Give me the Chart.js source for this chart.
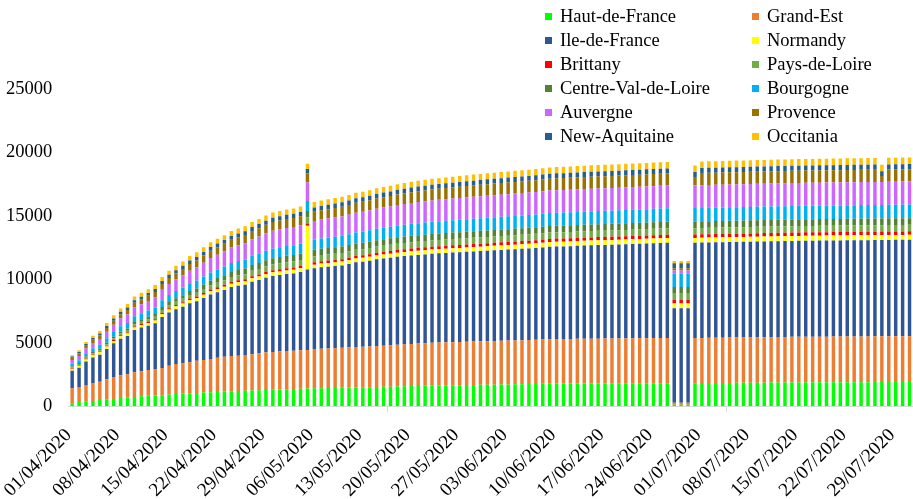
<!DOCTYPE html>
<html>
<head>
<meta charset="utf-8">
<script src="https://cdn.jsdelivr.net/npm/chart.js@4.4.1/dist/chart.umd.min.js"></script>
<style>
  html, body { margin: 0; padding: 0; background: #fff; }
  #wrap { position: relative; width: 913px; height: 499px; }
  #legend {
    position: absolute; left: 545px; top: 4px;
    display: grid; grid-template-columns: 207px 160px;
    font-family: "Liberation Serif", "Times New Roman", serif;
    font-size: 18.5px; color: #000;
  }
  .item { height: 24.1px; display: flex; align-items: center; white-space: nowrap; }
  .box { width: 7px; height: 7px; margin-right: 8px; flex: none; }
</style>
</head>
<body>
<div id="wrap">
  <canvas id="chart" width="913" height="499"></canvas>
  <div id="legend"></div>
</div>
<script>
// dates 01/04/2020 .. 31/07/2020
const dates = [
  '01/04/2020','02/04/2020','03/04/2020','04/04/2020','05/04/2020','06/04/2020','07/04/2020','08/04/2020','09/04/2020','10/04/2020',
  '11/04/2020','12/04/2020','13/04/2020','14/04/2020','15/04/2020','16/04/2020','17/04/2020','18/04/2020','19/04/2020','20/04/2020',
  '21/04/2020','22/04/2020','23/04/2020','24/04/2020','25/04/2020','26/04/2020','27/04/2020','28/04/2020','29/04/2020','30/04/2020',
  '01/05/2020','02/05/2020','03/05/2020','04/05/2020','05/05/2020','06/05/2020','07/05/2020','08/05/2020','09/05/2020','10/05/2020',
  '11/05/2020','12/05/2020','13/05/2020','14/05/2020','15/05/2020','16/05/2020','17/05/2020','18/05/2020','19/05/2020','20/05/2020',
  '21/05/2020','22/05/2020','23/05/2020','24/05/2020','25/05/2020','26/05/2020','27/05/2020','28/05/2020','29/05/2020','30/05/2020',
  '31/05/2020','01/06/2020','02/06/2020','03/06/2020','04/06/2020','05/06/2020','06/06/2020','07/06/2020','08/06/2020','09/06/2020',
  '10/06/2020','11/06/2020','12/06/2020','13/06/2020','14/06/2020','15/06/2020','16/06/2020','17/06/2020','18/06/2020','19/06/2020',
  '20/06/2020','21/06/2020','22/06/2020','23/06/2020','24/06/2020','25/06/2020','26/06/2020','27/06/2020','28/06/2020','29/06/2020',
  '30/06/2020','01/07/2020','02/07/2020','03/07/2020','04/07/2020','05/07/2020','06/07/2020','07/07/2020','08/07/2020','09/07/2020',
  '10/07/2020','11/07/2020','12/07/2020','13/07/2020','14/07/2020','15/07/2020','16/07/2020','17/07/2020','18/07/2020','19/07/2020',
  '20/07/2020','21/07/2020','22/07/2020','23/07/2020','24/07/2020','25/07/2020','26/07/2020','27/07/2020','28/07/2020','29/07/2020',
  '30/07/2020','31/07/2020'
];

const hautDeFrance = [
  240, 340, 390, 420, 500, 530, 580, 650, 700, 740,
  790, 830, 850, 870, 920, 970, 1000, 1020, 1050, 1080,
  1100, 1130, 1160, 1180, 1200, 1220, 1240, 1260, 1280, 1300,
  1320, 1340, 1360, 1380, 1400, 1420, 1430, 1440, 1450, 1460,
  1480, 1490, 1500, 1510, 1530, 1540, 1550, 1560, 1570, 1590,
  1600, 1610, 1620, 1630, 1640, 1650, 1660, 1670, 1680, 1690,
  1690, 1700, 1710, 1720, 1730, 1740, 1750, 1760, 1770, 1780,
  1790, 1790, 1790, 1795, 1800, 1800, 1800, 1805, 1805, 1810,
  1810, 1810, 1815, 1815, 1820, 1820, 1820, 120, 120, 120,
  1820, 1830, 1830, 1835, 1840, 1845, 1850, 1850, 1855, 1860,
  1865, 1870, 1870, 1875, 1880, 1885, 1885, 1890, 1890, 1890,
  1895, 1895, 1895, 1900, 1900, 1900, 1905, 1905, 1905, 1910,
  1910, 1910
];
const grandEst = [
  1180, 1180, 1290, 1420, 1440, 1600, 1730, 1790, 1820, 1940,
  1970, 2030, 2040, 2150, 2280, 2360, 2390, 2460, 2540, 2570,
  2630, 2700, 2750, 2780, 2790, 2820, 2860, 2910, 2970, 2980,
  3010, 3020, 3020, 3030, 3030, 3090, 3100, 3120, 3130, 3150,
  3170, 3180, 3200, 3210, 3230, 3240, 3260, 3280, 3300, 3320,
  3340, 3360, 3390, 3390, 3400, 3400, 3410, 3420, 3420, 3430,
  3440, 3440, 3450, 3460, 3460, 3470, 3480, 3480, 3490, 3500,
  3510, 3510, 3515, 3520, 3520, 3525, 3530, 3530, 3535, 3540,
  3540, 3545, 3550, 3550, 3555, 3560, 3560, 150, 150, 150,
  3560, 3560, 3565, 3565, 3570, 3570, 3570, 3575, 3575, 3580,
  3580, 3580, 3585, 3585, 3590, 3590, 3590, 3590, 3595, 3595,
  3595, 3600, 3600, 3600, 3600, 3605, 3605, 3605, 3605, 3610,
  3610, 3610
];
const ileDeFrance = [
  1390, 1520, 1840, 2000, 2130, 2390, 2650, 2890, 3020, 3330,
  3440, 3490, 3650, 4020, 4200, 4310, 4460, 4640, 4680, 4880,
  5070, 5150, 5250, 5430, 5510, 5540, 5720, 5780, 5880, 5990,
  6010, 6060, 6090, 6170, 6350, 6360, 6420, 6440, 6470, 6490,
  6560, 6670, 6690, 6750, 6820, 6870, 6900, 6950, 6970, 6980,
  6990, 7000, 7010, 7030, 7040, 7060, 7070, 7080, 7100, 7110,
  7130, 7150, 7160, 7170, 7190, 7200, 7210, 7240, 7260, 7290,
  7295, 7300, 7315, 7325, 7340, 7355, 7370, 7375, 7380, 7390,
  7410, 7425, 7435, 7455, 7465, 7480, 7500, 7450, 7450, 7450,
  7510, 7510, 7515, 7520, 7520, 7525, 7530, 7535, 7540, 7540,
  7545, 7550, 7555, 7560, 7560, 7565, 7570, 7570, 7570, 7575,
  7575, 7575, 7580, 7580, 7585, 7585, 7585, 7590, 7595, 7595,
  7595, 7600
];
const normandy = [
  150, 160, 170, 175, 180, 185, 190, 195, 200, 205,
  210, 215, 220, 225, 230, 235, 240, 245, 250, 255,
  260, 262, 265, 268, 270, 273, 276, 279, 282, 285,
  287, 288, 289, 290, 3440, 292, 294, 296, 298, 300,
  302, 304, 306, 308, 310, 312, 314, 318, 322, 326,
  330, 332, 334, 336, 338, 340, 342, 344, 346, 348,
  350, 352, 354, 356, 358, 360, 362, 364, 366, 368,
  370, 370, 372, 372, 374, 374, 375, 375, 376, 376,
  377, 377, 378, 378, 379, 379, 380, 380, 380, 380,
  380, 381, 381, 382, 382, 383, 383, 384, 384, 385,
  385, 385, 386, 386, 386, 387, 387, 387, 388, 388,
  388, 389, 389, 389, 390, 390, 390, 390, 391, 391,
  391, 392
];
const brittany = [
  50, 53, 56, 59, 62, 65, 68, 71, 74, 77,
  80, 86, 92, 98, 104, 110, 116, 122, 128, 134,
  140, 143, 146, 149, 152, 155, 158, 161, 164, 167,
  170, 173, 176, 179, 180, 182, 185, 188, 190, 193,
  196, 198, 200, 203, 206, 208, 210, 213, 216, 218,
  220, 222, 224, 226, 228, 230, 232, 234, 236, 238,
  240, 241, 242, 243, 244, 245, 246, 247, 248, 249,
  250, 251, 252, 253, 254, 255, 256, 257, 258, 259,
  260, 261, 262, 263, 264, 265, 266, 266, 266, 266,
  266, 267, 267, 268, 268, 268, 269, 269, 270, 270,
  270, 270, 271, 271, 271, 272, 272, 272, 273, 273,
  273, 273, 274, 274, 274, 274, 275, 275, 275, 275,
  276, 276
];
const paysDeLoire = [
  60, 70, 80, 90, 100, 110, 120, 135, 145, 158,
  170, 185, 200, 215, 230, 245, 260, 280, 300, 315,
  330, 345, 360, 375, 390, 405, 420, 435, 450, 462,
  470, 475, 478, 480, 481, 482, 483, 484, 485, 486,
  486, 487, 487, 488, 488, 489, 489, 489, 490, 490,
  490, 491, 491, 491, 492, 492, 492, 493, 493, 493,
  494, 494, 494, 495, 495, 495, 496, 496, 496, 497,
  497, 497, 498, 498, 498, 499, 499, 499, 500, 500,
  500, 500, 500, 501, 501, 501, 502, 502, 502, 502,
  502, 502, 503, 503, 503, 503, 503, 504, 504, 504,
  504, 504, 504, 504, 505, 505, 505, 505, 505, 505,
  505, 505, 506, 506, 506, 506, 506, 506, 506, 507,
  507, 507
];
const centreValDeLoire = [
  70, 80, 95, 110, 120, 135, 150, 165, 175, 188,
  200, 215, 230, 245, 260, 275, 290, 310, 325, 342,
  360, 375, 390, 405, 420, 435, 450, 465, 478, 488,
  494, 497, 499, 500, 501, 502, 503, 504, 505, 506,
  506, 507, 507, 508, 508, 509, 509, 509, 510, 510,
  510, 511, 511, 512, 512, 512, 513, 513, 513, 514,
  514, 514, 515, 515, 515, 516, 516, 516, 517, 517,
  517, 518, 518, 518, 519, 519, 519, 520, 520, 520,
  520, 521, 521, 521, 522, 522, 522, 522, 522, 522,
  523, 523, 523, 523, 524, 524, 524, 524, 525, 525,
  525, 525, 526, 526, 526, 526, 527, 527, 527, 527,
  528, 528, 528, 528, 529, 529, 529, 529, 530, 530,
  530, 530
];
const bourgogne = [
  210, 235, 260, 290, 315, 345, 375, 405, 430, 450,
  470, 490, 510, 530, 550, 570, 590, 610, 625, 645,
  660, 672, 684, 696, 708, 720, 732, 744, 756, 768,
  775, 780, 785, 790, 795, 805, 815, 825, 835, 845,
  855, 865, 875, 885, 895, 905, 915, 925, 935, 942,
  950, 955, 960, 965, 970, 975, 980, 984, 988, 992,
  996, 1000, 1003, 1006, 1009, 1012, 1015, 1018, 1021, 1024,
  1027, 1029, 1031, 1033, 1035, 1037, 1039, 1041, 1043, 1045,
  1046, 1047, 1048, 1049, 1050, 1051, 1052, 1053, 1053, 1053,
  1054, 1055, 1056, 1056, 1057, 1057, 1058, 1058, 1059, 1059,
  1060, 1060, 1061, 1061, 1062, 1062, 1063, 1063, 1064, 1064,
  1065, 1065, 1066, 1066, 1067, 1067, 1068, 1068, 1069, 1069,
  1070, 1070
];
const auvergne = [
  290, 330, 370, 420, 460, 510, 560, 610, 660, 690,
  710, 750, 790, 830, 870, 910, 955, 1000, 1045, 1090,
  1130, 1160, 1190, 1220, 1250, 1280, 1310, 1340, 1370, 1400,
  1415, 1425, 1435, 1445, 1455, 1465, 1480, 1495, 1510, 1525,
  1540, 1550, 1560, 1570, 1580, 1590, 1600, 1615, 1630, 1645,
  1660, 1670, 1680, 1688, 1696, 1704, 1712, 1720, 1726, 1732,
  1738, 1743, 1748, 1752, 1756, 1760, 1763, 1766, 1768, 1770,
  1772, 1774, 1776, 1778, 1779, 1780, 1782, 1783, 1784, 1786,
  1787, 1788, 1789, 1790, 1791, 1792, 1793, 260, 260, 260,
  1795, 1796, 1797, 1798, 1799, 1800, 1801, 1802, 1803, 1804,
  1805, 1805, 1806, 1806, 1807, 1807, 1808, 1808, 1809, 1809,
  1810, 1810, 1811, 1811, 1812, 1812, 1813, 1813, 1814, 1814,
  1815, 1815
];
const provence = [
  180, 200, 225, 250, 270, 295, 320, 345, 365, 380,
  390, 410, 430, 450, 470, 490, 510, 530, 550, 565,
  580, 592, 604, 616, 628, 640, 652, 664, 676, 688,
  695, 700, 705, 710, 715, 722, 732, 742, 752, 762,
  770, 780, 790, 798, 806, 814, 822, 830, 838, 846,
  852, 858, 864, 870, 876, 882, 888, 894, 899, 904,
  908, 912, 916, 920, 924, 927, 930, 933, 936, 938,
  940, 941, 942, 943, 944, 945, 946, 947, 948, 949,
  950, 951, 952, 953, 954, 955, 955, 180, 180, 180,
  650, 957, 957, 958, 958, 959, 959, 960, 960, 961,
  961, 962, 962, 963, 963, 964, 964, 965, 965, 966,
  966, 967, 967, 968, 968, 969, 969, 460, 970, 970,
  971, 971
];
const newAquitaine = [
  105, 120, 135, 150, 160, 170, 180, 190, 198, 205,
  210, 218, 226, 234, 242, 250, 258, 266, 274, 282,
  290, 294, 298, 302, 306, 310, 314, 318, 322, 326,
  330, 333, 336, 340, 342, 344, 346, 348, 350, 352,
  354, 356, 358, 360, 361, 362, 363, 364, 366, 368,
  370, 371, 372, 373, 374, 375, 376, 377, 378, 379,
  380, 381, 382, 383, 384, 385, 386, 387, 388, 389,
  390, 390, 391, 391, 392, 392, 392, 393, 393, 393,
  394, 394, 394, 394, 395, 395, 395, 395, 395, 395,
  395, 396, 396, 396, 396, 397, 397, 397, 397, 398,
  398, 398, 398, 398, 399, 399, 399, 399, 399, 400,
  400, 400, 400, 400, 401, 401, 401, 380, 401, 402,
  402, 402
];
const occitania = [
  105, 130, 155, 180, 200, 225, 245, 265, 280, 290,
  300, 308, 316, 324, 332, 340, 348, 356, 364, 372,
  380, 383, 386, 389, 392, 395, 398, 401, 404, 407,
  410, 413, 416, 420, 422, 424, 426, 428, 430, 432,
  434, 436, 438, 440, 442, 444, 446, 450, 454, 457,
  460, 462, 464, 466, 468, 470, 472, 474, 476, 478,
  480, 482, 484, 486, 488, 490, 492, 494, 496, 498,
  500, 501, 502, 503, 504, 505, 505, 506, 506, 507,
  507, 508, 508, 509, 509, 510, 510, 180, 180, 180,
  510, 511, 511, 512, 512, 512, 513, 513, 513, 514,
  514, 514, 515, 515, 515, 516, 516, 516, 517, 517,
  517, 518, 518, 518, 519, 519, 519, 519, 520, 520,
  520, 521
];

const regionNames = ['Haut-de-France', 'Grand-Est', 'Ile-de-France', 'Normandy', 'Brittany', 'Pays-de-Loire',
  'Centre-Val-de-Loire', 'Bourgogne', 'Auvergne', 'Provence', 'New-Aquitaine', 'Occitania'];
const regionValues = [hautDeFrance, grandEst, ileDeFrance, normandy, brittany, paysDeLoire,
  centreValDeLoire, bourgogne, auvergne, provence, newAquitaine, occitania];
const regionColors = ['#00FF00', '#ED7D31', '#2F5597', '#FFFF00', '#FF0000', '#70AD47',
  '#548235', '#00B0F0', '#CC66FF', '#997300', '#255E91', '#FFC000'];
const yTicks = [0, 5000, 10000, 15000, 20000, 25000];

const fontFamily = '"Liberation Serif", "Times New Roman", serif';

// legend (two columns, drawn over the plot like the original)
const legendDiv = document.getElementById('legend');
regionNames.forEach((name, i) => {
  const item = document.createElement('div');
  item.className = 'item';
  item.innerHTML = '<span class="box" style="background:' + regionColors[i] + '"></span><span>' + name + '</span>';
  legendDiv.appendChild(item);
});

const ctx = document.getElementById('chart').getContext('2d');
new Chart(ctx, {
  type: 'bar',
  data: {
    labels: dates,
    datasets: regionNames.map((name, i) => ({
      label: name,
      data: regionValues[i],
      backgroundColor: regionColors[i],
      borderWidth: 0,
      barPercentage: 0.5,
      categoryPercentage: 1.0
    }))
  },
  options: {
    responsive: false,
    animation: false,
    layout: { padding: { top: 89, right: 0, left: 0, bottom: 0 } },
    plugins: {
      legend: { display: false },
      tooltip: { enabled: false }
    },
    scales: {
      x: {
        stacked: true,
        offset: true,
        grid: {
          offset: true,
          drawOnChartArea: false,
          drawTicks: true,
          tickLength: 6,
          color: c => (c.index % 7 === 0 && c.index < dates.length) ? '#d9d9d9' : 'rgba(0,0,0,0)'
        },
        border: { display: true, color: '#d9d9d9', width: 1 },
        ticks: {
          autoSkip: false,
          maxRotation: 45,
          minRotation: 45,
          padding: 12,
          labelOffset: -3.5,
          color: '#000',
          font: { family: fontFamily, size: 19 },
          callback: (v, i) => (i % 7 === 0 ? dates[i] : null)
        },
        afterFit: s => {
          s.height = 92.7;
          s.paddingLeft = 0;
          s.paddingRight = 0;
        }
      },
      y: {
        stacked: true,
        min: 0,
        max: 25000,
        afterBuildTicks: s => { s.ticks = yTicks.map(v => ({ value: v })); },
        grid: { display: false, drawTicks: false },
        border: { display: false },
        ticks: {
          padding: 16.5,
          color: '#000',
          font: { family: fontFamily, size: 18.5 },
          callback: v => String(v)
        },
        afterFit: s => { s.width = 68.7; }
      }
    }
  }
});
</script>
</body>
</html>
